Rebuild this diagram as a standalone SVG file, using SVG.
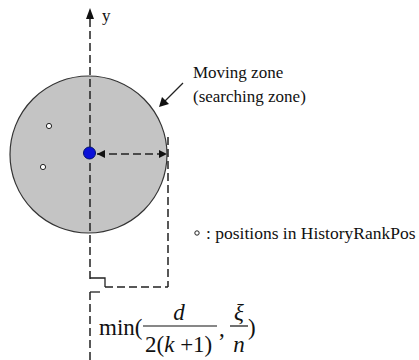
<svg xmlns="http://www.w3.org/2000/svg" width="419" height="360" viewBox="0 0 419 360">
<defs>
<style>
.t{font-family:"Liberation Serif","Times New Roman",serif;fill:#111}
.d{stroke:#222;stroke-width:1.5;fill:none;stroke-dasharray:8,4}
.s{stroke:#222;stroke-width:1.3;fill:none}
</style>
<marker id="ah" viewBox="0 0 10 10" refX="10" refY="5" markerWidth="8" markerHeight="8" markerUnits="userSpaceOnUse" orient="auto-start-reverse"><path d="M0,0 L10,5 L0,10 z" fill="#111"/></marker>
</defs>
<rect width="419" height="360" fill="#fff"/>
<g id="zone">
<circle cx="88.5" cy="154.5" r="78.5" fill="#c4c4c4" stroke="#333" stroke-width="1.2"/>
</g>
<g id="connectors">
<line class="d" x1="90" y1="19" x2="90" y2="279"/>
<path d="M90,8 L94,19 L86,19 z" fill="#111"/>
<line class="d" x1="90" y1="292" x2="90" y2="360"/>
<line class="d" x1="97" y1="154" x2="167" y2="154" marker-start="url(#ah)" marker-end="url(#ah)"/>
<line class="d" x1="168" y1="137" x2="168" y2="287"/>
<polyline class="s" points="90,278 105,278 105,287"/>
<line class="d" x1="105" y1="287" x2="168" y2="287"/>
<line class="s" x1="90" y1="292" x2="100" y2="292"/>
<line class="s" x1="183" y1="83" x2="164" y2="102"/>
<path d="M159,107 L162,97 L169,104 z" fill="#111"/>
</g>
<g id="center">
<circle cx="89.5" cy="153" r="6" fill="#0a10d8" stroke="#001070" stroke-width="1"/>
</g>
<g id="positions">
<circle cx="49" cy="126" r="2.6" fill="#fff" stroke="#222" stroke-width="1"/>
<circle cx="43" cy="167" r="2.6" fill="#fff" stroke="#222" stroke-width="1"/>
</g>
<text class="t" x="102" y="21" font-size="17">y</text>
<g id="zone-label">
<text class="t" x="193" y="78" font-size="17">Moving zone</text>
<text class="t" x="193" y="102" font-size="17">(searching zone)</text>
</g>
<g id="legend">
<circle cx="197" cy="233" r="2.2" fill="#fff" stroke="#222" stroke-width="1"/>
<text class="t" x="206" y="239" font-size="17.5">: positions in HistoryRankPos</text>
</g>
<g id="formula">
<text class="t" x="99" y="335" font-size="23">min(</text>
<text class="t" x="179" y="320" font-size="23" font-style="italic" text-anchor="middle">d</text>
<line x1="143" y1="326" x2="217" y2="326" stroke="#111" stroke-width="1.2"/>
<text class="t" x="145" y="352" font-size="23">2(<tspan font-style="italic">k</tspan> +1)</text>
<text class="t" x="219" y="336" font-size="23">,</text>
<text class="t" x="239" y="320" font-size="23" font-style="italic" text-anchor="middle">ξ</text>
<line x1="230" y1="326" x2="248" y2="326" stroke="#111" stroke-width="1.2"/>
<text class="t" x="239" y="352" font-size="23" font-style="italic" text-anchor="middle">n</text>
<text class="t" x="248" y="335" font-size="23">)</text>
</g>
</svg>
